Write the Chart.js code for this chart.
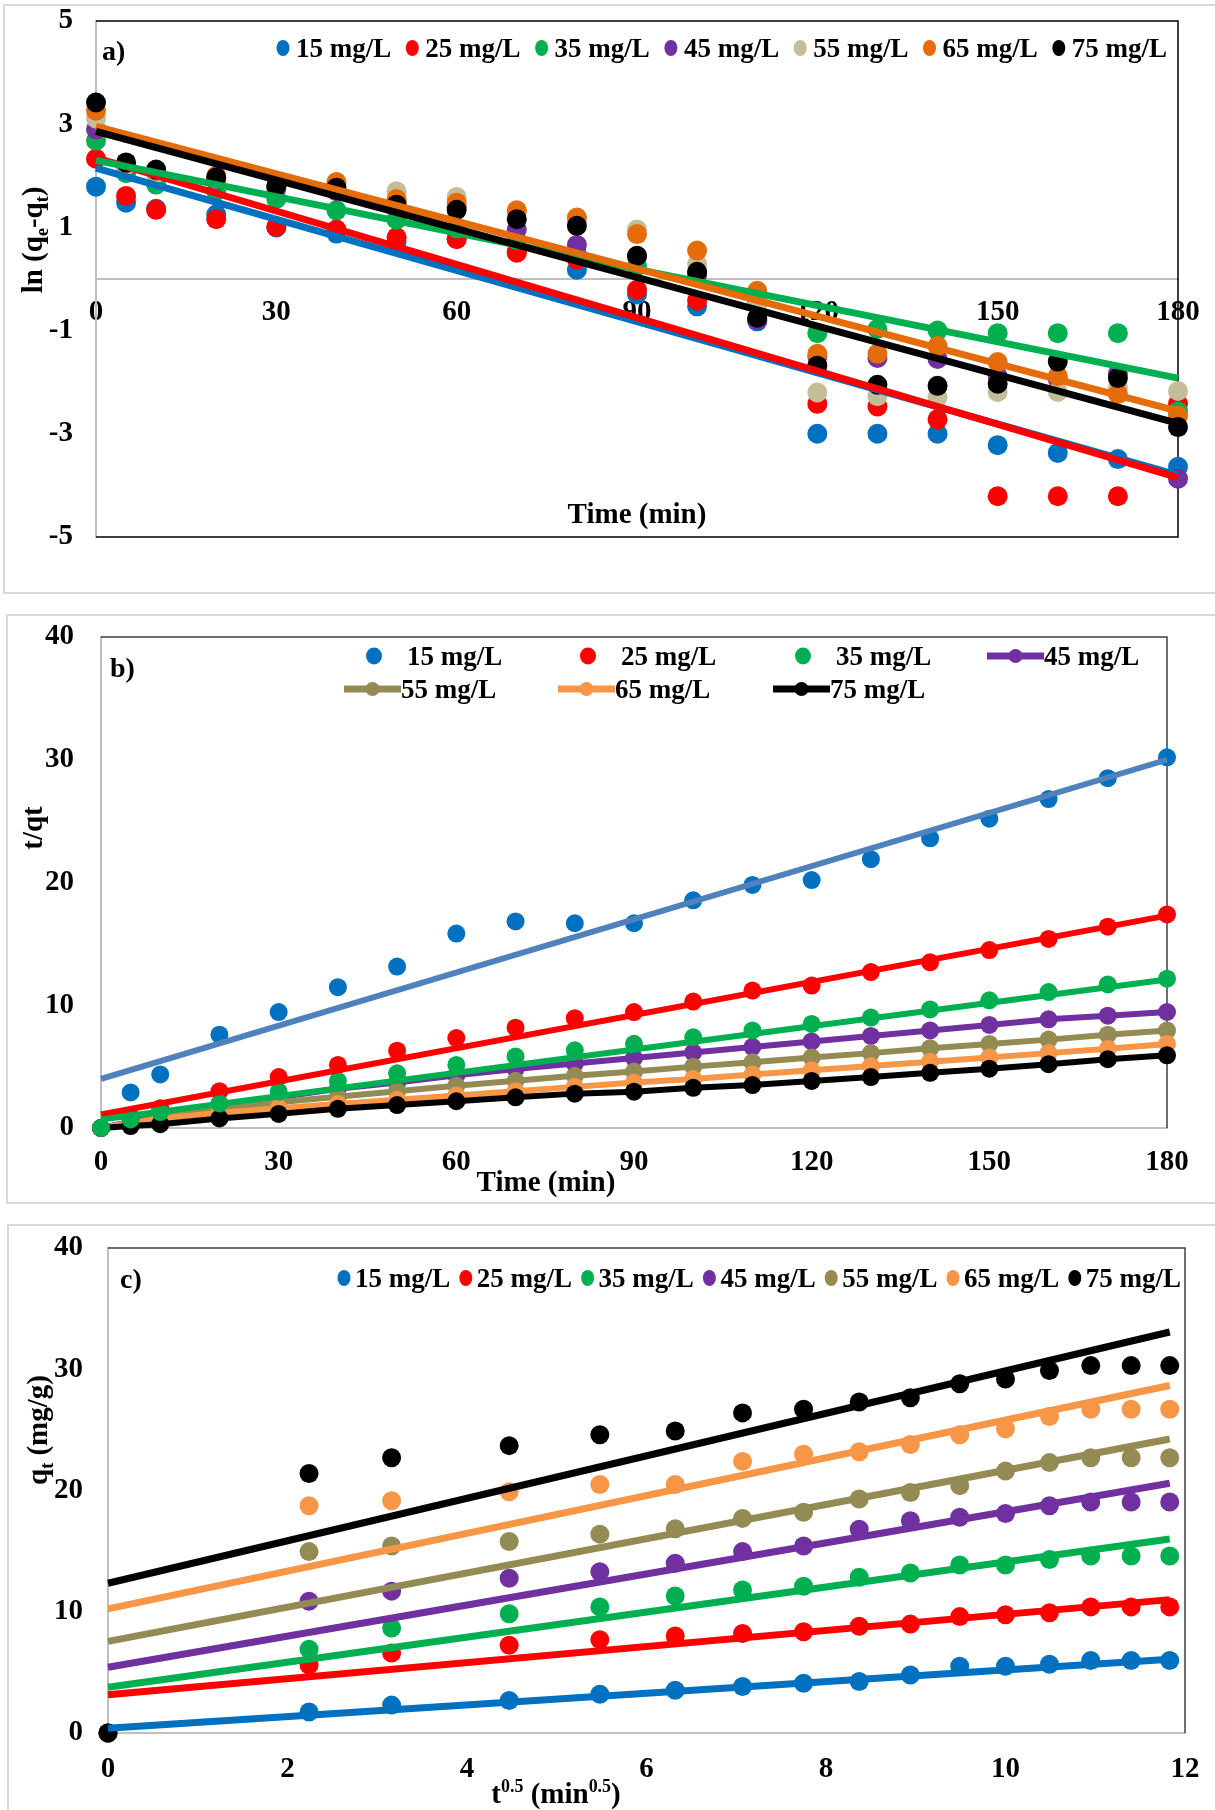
<!DOCTYPE html>
<html>
<head>
<meta charset="utf-8">
<script src="https://cdn.jsdelivr.net/npm/chart.js"></script>
<style>
  html, body { margin: 0; padding: 0; background: #fff; width: 1215px; height: 1810px; overflow: hidden; position: relative; }
  .box { position: absolute; border: 2px solid #d9d9d9; box-sizing: border-box; }
  canvas { position: absolute; left: 0; }
</style>
</head>
<body>
<div class="box" style="left:3px;top:4px;width:1240px;height:590px"></div>
<div class="box" style="left:6px;top:614px;width:1240px;height:590px"></div>
<div class="box" style="left:7px;top:1224px;width:1240px;height:620px"></div>
<canvas id="chartA" width="1215" height="605" style="top:0"></canvas>
<canvas id="chartB" width="1215" height="605" style="top:605px"></canvas>
<canvas id="chartC" width="1215" height="595" style="top:1215px"></canvas>
<script>
const labels = ["15 mg/L", "25 mg/L", "35 mg/L", "45 mg/L", "55 mg/L", "65 mg/L", "75 mg/L"];
const colorsA = ["#0070C0", "#FF0000", "#00B050", "#7030A0", "#C4BD97", "#E46C0A", "#000000"];
const colorsBC = ["#0070C0", "#FF0000", "#00B050", "#7030A0", "#948A54", "#F79646", "#000000"];

const timeMin = [0, 5, 10, 20, 30, 40, 50, 60, 70, 80, 90, 100, 110, 120, 130, 140, 150, 160, 170, 180];

// a) ln(qe-qt) vs time
const lnA15 = [1.79, 1.48, 1.36, 1.25, 1.00, 0.88, 0.72, 0.78, 0.52, 0.18, -0.30, -0.53, -0.82, -3.00, -3.00, -3.00, -3.22, -3.37, -3.49, -3.64];
const lnA25 = [2.33, 1.61, 1.34, 1.16, 1.01, 0.96, 0.81, 0.77, 0.51, 0.38, -0.21, -0.42, -0.78, -2.42, -2.47, -2.72, -4.21, -4.21, -4.21, -2.42];
const lnA35 = [2.68, 2.05, 1.83, 1.70, 1.55, 1.33, 1.15, 0.98, 0.75, 0.50, 0.25, 0.08, -0.45, -1.05, -0.97, -1.00, -1.05, -1.05, -1.05, -2.57];
const lnA45 = [2.90, 2.18, 2.05, 1.90, 1.75, 1.70, 1.50, 1.40, 0.96, 0.66, 0.44, 0.10, -0.80, -1.50, -1.53, -1.55, -1.88, -1.94, -1.84, -3.87];
const lnA55 = [3.11, 2.20, 2.05, 1.95, 1.80, 1.85, 1.70, 1.59, 1.30, 1.15, 0.96, 0.29, -0.50, -2.20, -2.27, -2.29, -2.19, -2.19, -2.10, -2.17];
const lnA65 = [3.26, 2.24, 2.10, 2.00, 1.80, 1.88, 1.55, 1.48, 1.33, 1.19, 0.87, 0.55, -0.23, -1.45, -1.45, -1.30, -1.61, -1.88, -2.23, -2.65];
const lnA75 = [3.42, 2.26, 2.12, 1.97, 1.80, 1.77, 1.44, 1.34, 1.16, 1.03, 0.45, 0.14, -0.75, -1.68, -2.05, -2.07, -2.03, -1.60, -1.92, -2.87];
// trend lines, value at t = 0 and t = 180
const fitA0 = [2.15, 2.35, 2.30, null, null, 2.96, 2.86];
const fitA180 = [-3.80, -3.85, -1.92, null, null, -2.56, -2.80];

// b) t/qt vs time
const tqB15 = [0, 2.9, 4.36, 7.6, 9.44, 11.47, 13.15, 15.84, 16.83, 16.68, 16.68, 18.55, 19.8, 20.2, 21.9, 23.6, 25.2, 26.8, 28.5, 30.2];
const tqB25 = [0, 0.9, 1.6, 3.0, 4.15, 5.14, 6.3, 7.33, 8.17, 8.95, 9.44, 10.3, 11.2, 11.6, 12.7, 13.5, 14.5, 15.4, 16.4, 17.4];
const tqB35 = [0, 0.7, 1.3, 2.0, 2.96, 3.83, 4.46, 5.14, 5.83, 6.33, 6.86, 7.39, 7.95, 8.48, 9.0, 9.66, 10.4, 11.07, 11.7, 12.16];
const tqB45 = [0, 0.5, 1.0, 1.9, 2.5, 3.2, 3.7, 4.3, 4.8, 5.25, 5.7, 6.15, 6.6, 7.05, 7.5, 7.95, 8.4, 8.85, 9.15, 9.45];
const tqB55 = [0, 0.45, 0.85, 1.55, 2.1, 2.55, 3.0, 3.45, 3.85, 4.25, 4.6, 5.0, 5.35, 5.75, 6.1, 6.5, 6.85, 7.2, 7.6, 7.95];
const tqB65 = [0, 0.4, 0.75, 1.25, 1.6, 1.95, 2.3, 2.65, 3.0, 3.35, 3.7, 4.0, 4.35, 4.7, 5.05, 5.4, 5.75, 6.1, 6.45, 6.85];
const tqB75 = [0, 0.16, 0.31, 0.78, 1.15, 1.56, 1.87, 2.18, 2.5, 2.8, 2.96, 3.27, 3.5, 3.83, 4.15, 4.5, 4.83, 5.2, 5.6, 5.92];
const fitB0 = [4.0, 1.1, 0.7];
const fitB180 = [30.0, 17.3, 12.1];

// c) qt vs t^0.5
const rootT = [0, 2.24, 3.16, 4.47, 5.48, 6.32, 7.07, 7.75, 8.37, 8.94, 9.49, 10, 10.49, 10.95, 11.4, 11.83];
const qC15 = [0, 1.73, 2.3, 2.68, 3.2, 3.53, 3.84, 4.1, 4.25, 4.79, 5.5, 5.5, 5.67, 5.98, 5.98, 5.98];
const qC25 = [0, 5.6, 6.6, 7.24, 7.7, 8.0, 8.2, 8.35, 8.8, 8.98, 9.6, 9.76, 9.92, 10.4, 10.4, 10.4];
const qC35 = [0, 6.9, 8.66, 9.83, 10.4, 11.3, 11.8, 12.1, 12.85, 13.2, 13.86, 13.86, 14.3, 14.6, 14.6, 14.6];
const qC45 = [0, 10.87, 11.7, 12.76, 13.3, 14.0, 14.96, 15.43, 16.8, 17.5, 17.8, 18.1, 18.74, 19.05, 19.05, 19.05];
const qC55 = [0, 14.96, 15.43, 15.8, 16.4, 16.85, 17.7, 18.2, 19.3, 19.84, 20.4, 21.6, 22.3, 22.7, 22.7, 22.7];
const qC65 = [0, 18.74, 19.15, 19.9, 20.5, 20.5, 22.4, 23.0, 23.2, 23.8, 24.6, 25.1, 26.1, 26.7, 26.7, 26.7];
const qC75 = [0, 21.4, 22.7, 23.7, 24.6, 24.9, 26.4, 26.7, 27.3, 27.65, 28.8, 29.2, 29.9, 30.3, 30.3, 30.3];
// trend lines, value at t^0.5 = 0 and at the last point
const fitC0 = [0.4, 3.15, 3.78, 5.42, 7.56, 10.24, 12.35];
const fitCEnd = [6.08, 11.0, 16.0, 20.6, 24.25, 28.66, 33.07];

const FONT = '"Liberation Serif", "Times New Roman", serif';
Chart.defaults.font.family = FONT;
Chart.defaults.font.size = 29;
Chart.defaults.font.weight = 'bold';
Chart.defaults.color = '#000';

function pts(xs, ys) {
  return xs.map((x, i) => ({ x: x, y: ys[i] }));
}

function dots(data, color, r) {
  return { data: data, showLine: false, pointRadius: r, pointHoverRadius: r, pointBorderWidth: 0,
           backgroundColor: color, borderColor: color, clip: false };
}

function trend(x0, x1, y0, y1, color, w) {
  return { data: [{ x: x0, y: y0 }, { x: x1, y: y1 }], showLine: true, pointRadius: 0, pointHoverRadius: 0,
           borderColor: color, backgroundColor: color, borderWidth: w, clip: false };
}

// draw text with sub/superscripts; (x, y) is the visual centre (or left/centre)
function richText(ctx, parts, x, y, size, rot, left) {
  const fnt = s => 'bold ' + s + 'px ' + FONT;
  ctx.save();
  ctx.translate(x, y);
  if (rot) ctx.rotate(-Math.PI / 2);
  let w = 0;
  parts.forEach(p => {
    ctx.font = fnt(p.s ? size * 0.62 : size);
    p.w = ctx.measureText(p.t).width;
    w += p.w;
  });
  let cx = left ? 0 : -w / 2;
  ctx.fillStyle = '#000';
  ctx.textAlign = 'left';
  ctx.textBaseline = 'alphabetic';
  parts.forEach(p => {
    ctx.font = fnt(p.s ? size * 0.62 : size);
    const dy = p.s === 'sub' ? size * 0.2 : p.s === 'sup' ? -size * 0.38 : 0;
    ctx.fillText(p.t, cx, size * 0.34 + dy);
    cx += p.w;
  });
  ctx.restore();
}

function drawItem(ctx, it) {
  ctx.save();
  if (it.line) {
    ctx.strokeStyle = it.color;
    ctx.lineWidth = 7;
    ctx.beginPath();
    ctx.moveTo(it.line[0], it.cy);
    ctx.lineTo(it.line[1], it.cy);
    ctx.stroke();
  }
  ctx.fillStyle = it.color;
  ctx.beginPath();
  ctx.ellipse(it.dx, it.cy, it.rx, it.ry, 0, 0, Math.PI * 2);
  ctx.fill();
  ctx.fillStyle = '#000';
  ctx.font = 'bold 27px ' + FONT;
  ctx.textAlign = 'left';
  ctx.textBaseline = 'alphabetic';
  ctx.fillText(it.label, it.tx, it.cy + 9);
  ctx.restore();
}

const decorCfg = {};
Chart.register({
  id: 'decor',
  beforeDatasetsDraw(chart) {
    const c = decorCfg[chart.canvas.id];
    const a = chart.chartArea, ctx = chart.ctx;
    ctx.save();
    ctx.strokeStyle = c.frame;
    ctx.lineWidth = 1.5;
    ctx.beginPath();
    ctx.moveTo(a.left, a.top);
    ctx.lineTo(a.right, a.top);
    ctx.lineTo(a.right, a.bottom);
    if (c.frameBottom) ctx.lineTo(a.left, a.bottom);
    ctx.stroke();
    ctx.restore();
  },
  afterDraw(chart) {
    const c = decorCfg[chart.canvas.id];
    c.texts.forEach(t => richText(chart.ctx, t.parts, t.x, t.y, t.size || 29, t.rot, t.left));
    c.legend.forEach(it => drawItem(chart.ctx, it));
  }
});

function makeChart(id, datasets, o) {
  datasets.forEach((d, i) => { d.order = datasets.length - i; });
  return new Chart(document.getElementById(id), {
    type: 'scatter',
    data: { datasets: datasets },
    options: {
      responsive: false,
      animation: false,
      events: [],
      layout: { padding: o.pad },
      plugins: { legend: { display: false }, tooltip: { enabled: false } },
      scales: {
        x: {
          type: 'linear', min: o.xMin, max: o.xMax, position: o.xPos,
          grid: { display: false, drawTicks: false },
          border: { color: '#bfbfbf', width: 2 },
          ticks: { stepSize: o.xStep, padding: o.xPad, maxRotation: 0, autoSkip: false },
          afterFit: s => {
            if (o.xHeight) s.height = o.xHeight;
            s.paddingLeft = 0; s.paddingRight = 0;
          }
        },
        y: {
          type: 'linear', min: o.yMin, max: o.yMax, position: 'left',
          grid: { display: false, drawTicks: false },
          border: { color: '#bfbfbf', width: 2 },
          ticks: { stepSize: o.yStep, padding: o.yPad },
          afterFit: s => {
            s.width = o.left;
            s.paddingTop = 0; s.paddingBottom = 0;
          }
        }
      }
    }
  });
}

// ---------- a) ----------
const seriesA = [lnA15, lnA25, lnA35, lnA45, lnA55, lnA65, lnA75];
const dsA = seriesA.map((s, i) => dots(pts(timeMin, s), colorsA[i], 10));
fitA0.forEach((v, i) => {
  if (v !== null) dsA.push(trend(0, 180, v, fitA180[i], colorsA[i], 7));
});
decorCfg.chartA = {
  frame: '#000', frameBottom: true,
  texts: [
    { parts: [{ t: 'a)' }], x: 102, y: 50, size: 28, left: true },
    { parts: [{ t: 'Time (min)' }], x: 637, y: 513 },
    { parts: [{ t: 'ln (q' }, { t: 'e', s: 'sub' }, { t: '-q' }, { t: 't', s: 'sub' }, { t: ')' }], x: 32, y: 240, rot: true }
  ],
  legend: labels.map((l, i) => ({ label: l, color: colorsA[i], dx: 283 + i * 129.3, tx: 296 + i * 129.3, cy: 48, rx: 6.5, ry: 8 }))
};
makeChart('chartA', dsA, {
  pad: { left: 0, top: 21, right: 37, bottom: 68 }, left: 96,
  xMin: 0, xMax: 180, xStep: 30, xPos: { y: 0 }, xPad: 16.5,
  yMin: -5, yMax: 5, yStep: 2, yPad: 23
});

// ---------- b) ----------
const seriesB = [tqB15, tqB25, tqB35, tqB45, tqB55, tqB65, tqB75];
const dsB = [];
[3, 4, 5, 6].forEach(i => {
  const d = dots(pts(timeMin, seriesB[i]), colorsBC[i], 9);
  d.showLine = true;
  d.borderWidth = 6;
  dsB.push(d);
});
[0, 1, 2].forEach(i => dsB.push(dots(pts(timeMin, seriesB[i]), colorsBC[i], 9)));
const fitColorsB = ["#4F81BD", "#FF0000", "#00B050"];
[0, 1, 2].forEach(i => dsB.push(trend(0, 180, fitB0[i], fitB180[i], fitColorsB[i], 6)));
const colX = [344, 558, 773, 987], rowY = [51, 84];
decorCfg.chartB = {
  frame: '#404040', frameBottom: false,
  texts: [
    { parts: [{ t: 'b)' }], x: 110, y: 62, size: 28, left: true },
    { parts: [{ t: 'Time (min)' }], x: 546, y: 576 },
    { parts: [{ t: 't/qt' }], x: 32, y: 223, rot: true }
  ],
  legend: labels.map((l, i) => {
    const x0 = colX[i % 4], line = i >= 3;
    return { label: l, color: colorsBC[i], line: line ? [x0, x0 + 57] : null,
             dx: x0 + (line ? 28.5 : 30), tx: x0 + (line ? 57 : 63), cy: rowY[Math.floor(i / 4)],
             rx: line ? 7 : 8, ry: line ? 7 : 8.5 };
  })
};
makeChart('chartB', dsB, {
  pad: { left: 0, top: 32, right: 48, bottom: 0 }, left: 101,
  xMin: 0, xMax: 180, xStep: 30, xPos: 'bottom', xPad: 17.5, xHeight: 82,
  yMin: 0, yMax: 40, yStep: 10, yPad: 27
});

// ---------- c) ----------
const seriesC = [qC15, qC25, qC35, qC45, qC55, qC65, qC75];
const lastRoot = rootT[rootT.length - 1];
const dsC = seriesC.map((s, i) => dots(pts(rootT, s), colorsBC[i], 9.5));
fitC0.forEach((v, i) => dsC.push(trend(0, lastRoot, v, fitCEnd[i], colorsBC[i], 7)));
decorCfg.chartC = {
  frame: '#404040', frameBottom: false,
  texts: [
    { parts: [{ t: 'c)' }], x: 120, y: 63, size: 28, left: true },
    { parts: [{ t: 't' }, { t: '0.5', s: 'sup' }, { t: ' (min' }, { t: '0.5', s: 'sup' }, { t: ')' }], x: 556, y: 578 },
    { parts: [{ t: 'q' }, { t: 't', s: 'sub' }, { t: ' (mg/g)' }], x: 37, y: 215, rot: true }
  ],
  legend: labels.map((l, i) => ({ label: l, color: colorsBC[i], dx: 344 + i * 121.8, tx: 355 + i * 121.8, cy: 63, rx: 6.5, ry: 8 }))
};
makeChart('chartC', dsC, {
  pad: { left: 0, top: 33, right: 30, bottom: 0 }, left: 108,
  xMin: 0, xMax: 12, xStep: 2, xPos: 'bottom', xPad: 19.5, xHeight: 77,
  yMin: 0, yMax: 40, yStep: 10, yPad: 25
});
</script>
</body>
</html>
